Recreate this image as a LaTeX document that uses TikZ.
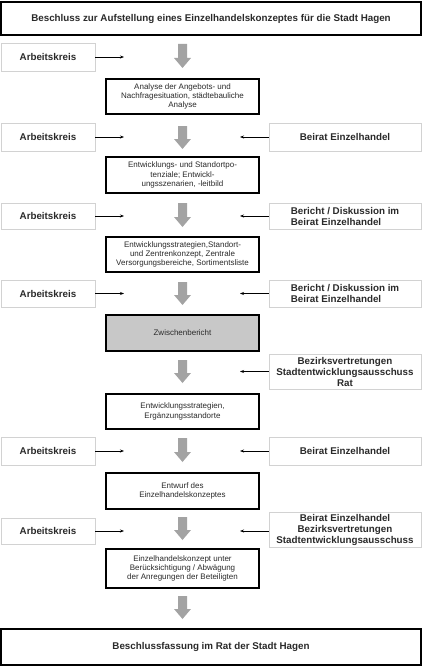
\documentclass[tikz,border=0pt]{standalone}
\usepackage{fontspec}
\setmainfont{Liberation Sans}
\usetikzlibrary{arrows.meta}
\definecolor{arrowgrey}{HTML}{A3A3A3}
\definecolor{sidegrey}{HTML}{D2D2D2}
\definecolor{zwgrey}{HTML}{C8C8C8}
\definecolor{txtgrey}{HTML}{2A2A2A}
\newcommand\sidefont{\fontsize{9.8bp}{11bp}\selectfont\bfseries}
\newcommand\stepfont{\fontsize{8bp}{9.3bp}\selectfont}
\newcommand\garrow[2]{\fill[arrowgrey] (178,#1) -- (187,#1) -- (187,{#2-10}) -- (191,{#2-10}) -- (182.5,#2) -- (174,{#2-10}) -- (178,{#2-10}) -- cycle;}
\tikzset{
  framebox/.style={draw=black, line width=1.6bp, fill=white, inner sep=0pt, minimum width=420bp, font=\sidefont, text=txtgrey},
  stepbox/.style={draw=black, line width=1.6bp, fill=white, inner sep=0pt, minimum width=153bp, font=\stepfont, text=txtgrey, align=center},
  leftbox/.style={draw=sidegrey, line width=0.8bp, fill=white, inner sep=0pt, minimum width=94bp, font=\sidefont, text=txtgrey},
  rightbox/.style={draw=sidegrey, line width=0.8bp, fill=white, inner sep=0pt, minimum width=152bp, font=\sidefont, text=txtgrey},
  smallarrow/.style={draw=black, line width=0.8bp, -{Stealth[length=4bp,width=3bp]}}
}
\begin{document}
\begin{tikzpicture}[x=1bp,y=-1bp]
\useasboundingbox (0,0) rectangle (422,666);
% main column
\node[framebox, minimum height=33bp] (top) at (211,18.5) {Beschluss zur Aufstellung eines Einzelhandelskonzeptes für die Stadt Hagen};
\node[stepbox, minimum height=35bp] (b1) at (182.5,96.5) {Analyse der Angebots- und\\Nachfragesituation, städtebauliche\\Analyse};
\node[stepbox, minimum height=36bp] (b2) at (182.5,175) {Entwicklungs- und Standortpo-\\tenziale; Entwickl-\\ungsszenarien, -leitbild};
\node[stepbox, minimum height=35bp] (b3) at (182.5,254.5) {Entwicklungsstrategien,Standort-\\und Zentrenkonzept, Zentrale\\Versorgungsbereiche, Sortimentsliste};
\node[stepbox, minimum height=36bp, fill=zwgrey] (b4) at (182.5,333) {Zwischenbericht};
\node[stepbox, minimum height=35bp] (b5) at (182.5,411.5) {Entwicklungsstrategien,\\Ergänzungsstandorte};
\node[stepbox, minimum height=36bp] (b6) at (182.5,491) {Entwurf des\\Einzelhandelskonzeptes};
\node[stepbox, minimum height=39bp] (b7) at (182.5,568.5) {Einzelhandelskonzept unter\\Berücksichtigung / Abwägung\\der Anregungen der Beteiligten};
\node[framebox, minimum height=36bp] (bottom) at (211,647) {Beschlussfassung im Rat der Stadt Hagen};
% grey flow arrows
\garrow{44}{68}
\garrow{126}{149}
\garrow{203}{227}
\garrow{282}{305}
\garrow{360}{383}
\garrow{438}{462}
\garrow{517}{540}
\garrow{596}{619}
% side boxes
\node[leftbox, minimum height=28bp] (l1) at (48,57) {Arbeitskreis};
\node[leftbox, minimum height=28bp] (l2) at (48,137) {Arbeitskreis};
\node[rightbox, minimum height=28bp] (r2) at (345,137) {Beirat Einzelhandel};
\node[leftbox, minimum height=26bp] (l3) at (48,216) {Arbeitskreis};
\node[rightbox, minimum height=26bp, align=left] (r3) at (345,216) {Bericht / Diskussion im\\Beirat Einzelhandel};
\node[leftbox, minimum height=27bp] (l4) at (48,293.5) {Arbeitskreis};
\node[rightbox, minimum height=27bp, align=left] (r4) at (345,293.5) {Bericht / Diskussion im\\Beirat Einzelhandel};
\node[rightbox, minimum height=35bp, align=center] (r5) at (345,371.5) {Bezirksvertretungen\\Stadtentwicklungsausschuss\\Rat};
\node[leftbox, minimum height=28bp] (l6) at (48,451) {Arbeitskreis};
\node[rightbox, minimum height=28bp] (r6) at (345,451) {Beirat Einzelhandel};
\node[leftbox, minimum height=26bp] (l7) at (48,531) {Arbeitskreis};
\node[rightbox, minimum height=35bp, align=center] (r7) at (345,529.5) {Beirat Einzelhandel\\Bezirksvertretungen\\Stadtentwicklungsausschuss};
% arrow ends
\coordinate (l1e) at (124,57);
\coordinate (l2e) at (124,137);
\coordinate (r2e) at (240,137);
\coordinate (l3e) at (124,216);
\coordinate (r3e) at (240,216);
\coordinate (l4e) at (124,293.5);
\coordinate (r4e) at (240,293.5);
\coordinate (r5e) at (240,371.5);
\coordinate (l6e) at (124,451);
\coordinate (r6e) at (240,451);
\coordinate (l7e) at (124,531);
\coordinate (r7e) at (240,531);
\draw[smallarrow] (l1.east) -- (l1e);
\draw[smallarrow] (l2.east) -- (l2e);
\draw[smallarrow] (r2.west) -- (r2e);
\draw[smallarrow] (l3.east) -- (l3e);
\draw[smallarrow] (r3.west) -- (r3e);
\draw[smallarrow] (l4.east) -- (l4e);
\draw[smallarrow] (r4.west) -- (r4e);
\draw[smallarrow] (r5.west) -- (r5e);
\draw[smallarrow] (l6.east) -- (l6e);
\draw[smallarrow] (r6.west) -- (r6e);
\draw[smallarrow] (l7.east) -- (l7e);
\draw[smallarrow] (r7.west |- r7e) -- (r7e);
\end{tikzpicture}
\end{document}
